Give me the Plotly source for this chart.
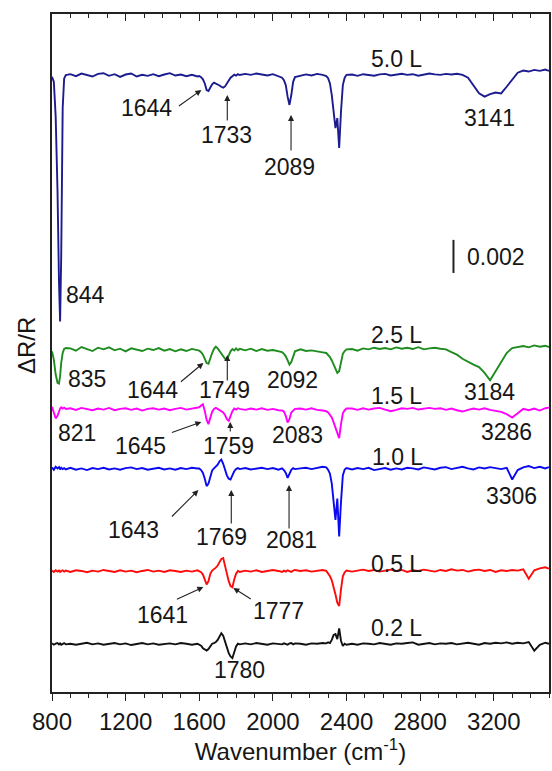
import plotly.graph_objects as go

# ---------------- data ----------------
# sampling wavenumbers (cm^-1)
WN = ([800, 810, 820, 830, 838, 844, 850, 858, 866, 875]
      + list(range(900, 1600, 30))
      + list(range(1600, 1830, 10))
      + list(range(1850, 2050, 30))
      + list(range(2050, 2130, 10))
      + list(range(2150, 2290, 30))
      + list(range(2290, 2410, 10))
      + list(range(2430, 3490, 30)) + [3500])

# spectra, deviation from each baseline, in units of 1e-4 dR/R
d50 = ([-1, -4, -25, -70, -125, -149, -110, -20, -2, 0]
       + [0.6, -0.6, 1.0, 0.2, -0.8, 0.8, 1.2, -0.4, 0.6, -1.0, 0.4, 1.0, -0.8, 0.2, -0.4, 0.6, -0.6, 0.4, 1.2, -0.2, 0.4, -0.6, 0.2, -0.8]
       + [-0.5, -1.2, -2.5, -5, -9, -9.5, -7, -5.5, -4.5, -5, -5.5, -6.2, -7, -7.5, -6.8, -4.8, -2.8, -1.5, -0.6, 0.3, -0.3, 0.6, 0.1]
       + [0.8, 0.2, 1.0, 0.4, -0.2, 0.6, -0.6]
       + [-1.5, -3, -6, -13, -18, -12, -4, -1.2]
       + [-0.4, 0.5, -0.2, 0.8, 0.2]
       + [-0.5, -1.8, -5, -12, -24, -32, -26, -44, -22, -6, -1.5, 0.2]
       + [0.4, -0.4, 0.6, 0.2, -0.3, 0.5, 0.8, -0.2, 0.4, 0.9,
          0.2, 0.6, -0.3, 0.4, 1.0, 0.5, 0.2, 0.8, 0.4, 0.9,
          0.2, -1.5, -6, -11, -13, -11.5, -10.5, -11, -7, -3,
          1.5, 2.8, 2.2, 3.2, 2.6, 3.4, 2.6])

d25 = ([-1, -6, -15, -20, -20.5, -16, -8, -2, 0.5, 1]
       + [0.8, -0.6, 1.6, 0.4, -0.8, 1.2, 0.2, 1.4, -0.4, 0.6, -1.0, 0.8, 0.2, -0.8, 0.6, -0.2, 1.0, -0.6, 0.4, -1.0, 0.2, -0.8, 0.5, -0.4]
       + [-0.6, -1.5, -3, -5.5, -8, -8.5, -5, -2, 0.5, 1.8, 0.8, -0.8, -2, -3.5, -5.5, -6, -3, -1, 0.4, -0.5, 0.8, -0.3, 0.5]
       + [-0.4, 0.6, -0.8, 0.4, -0.6, -0.2, -1.0]
       + [-1.5, -2.5, -4, -6.5, -9, -7.5, -3.5, -1]
       + [0.2, -0.8, -0.4, -1.2, -1.6]
       + [-2, -3, -4.5, -6.5, -9, -12, -14, -13, -7, -2.5, -0.8, 0.2]
       + [0.4, -0.6, 0.8, 0.2, 1.2, 0.4, 1.0, 0.2, 1.4, 0.6,
          1.2, 0.4, 1.5, 0.2, 0.8, 1.2, 0.6, 0.2, -1.5, -3,
          -5.5, -7.5, -9, -10.5, -14, -18.5, -13, -8, -2, 1.0,
          1.6, 2.2, 1.4, 2.6, 1.8, 2.4, 1.6])

d15 = ([1.5, -2, -5.5, -4, -1, 0.5, 1.2, 0.4, 1.0, 0.2]
       + [0.6, -0.4, 0.8, 0.2, -0.6, 0.4, -0.2, 0.8, -0.6, 0.2, 0.6, -0.4, 0.4, -0.8, 0.2, 0.6, -0.2, 0.4, -0.6, 0.2, 0.8, -0.2, 0.4, 0.8]
       + [1.2, 2.2, 3, -1, -6.5, -9, -5, -1.5, 0.2, 0.8, 0.2, -0.5, -1, -2, -3.5, -6, -7, -4, -1.2, 0.4, -0.2, 0.6, 0.2]
       + [-0.4, 0.4, -0.2, 0.6, -0.4, 0.2, -0.6]
       + [-0.8, -1.5, -4, -8, -6, -2, -0.6, 0.2]
       + [0.4, -0.2, 0.6, -0.4, -0.8]
       + [-1.2, -2, -3.2, -5, -8, -11, -14, -17.5, -9, -2.5, -0.6, 0.4]
       + [0.4, -0.4, 0.6, -0.2, 0.4, 0.8, -0.2, -1.2, -0.4, 0.6,
          0.2, 0.8, -0.2, 0.4, 0.8, 0.2, 0.6, -0.4, 0.4, -0.6,
          -1.4, -0.4, 0.4, -0.2, 0.6, -0.4, -0.8, -1.6, -3, -5,
          -2.5, 0.2, -0.6, 0.4, -0.8, 0.6, 1.0])

d10 = ([0.8, -0.6, 1.2, 0.2, 1.0, -0.4, 0.6, -0.2, 0.4, -0.4]
       + [0.6, -0.6, 0.2, -0.8, 0.4, -0.2, 0.6, -0.4, 0.2, -0.6, 0.4, 0.8, -0.2, 0.4, -0.6, 0.2, 0.6, -0.4, 0.2, -0.6, 0.4, -0.2, 0.6, 0.2]
       + [0.2, -0.8, -2.5, -6, -10.5, -9, -4, -1, 0.2, 1.2, 2.5, 4.5, 5.5, 3, -1, -4, -6, -6.5, -4, -1.5, -0.2, 0.4, -0.2]
       + [0.4, -0.4, 0.2, 0.6, -0.2, 0.4, -0.6]
       + [0.2, -0.8, -2.5, -5.5, -3, -0.6, 0.4, -0.2]
       + [0.2, 0.6, -0.2, 0.4, 1.2]
       + [0.8, -0.6, -3, -9, -20, -31, -18, -41, -20, -4, -0.5, 0.4]
       + [-0.4, 0.4, -0.2, 0.6, -0.8, -0.2, 0.4, -0.6, 0.2, -0.4,
          0.6, 0.2, -0.4, 0.8, 0.2, -0.4, 0.6, 1.0, -0.2, 0.6,
          1.2, 0.2, -0.4, 0.8, 0.2, 1.0, 0.4, -0.2, 0.6, -6.5,
          -0.8, 0.8, 1.6, 0.4, 1.2, 0.2, 1.0])

d05 = ([0.4, -0.4, 0.6, -0.2, 0.4, -0.4, 0.2, 0.6, -0.2, 0.4]
       + [-0.4, 0.6, 0.2, -0.6, 0.4, -0.2, 0.8, 0.2, -0.4, 0.6, -0.2, 0.4, -0.6, 0.2, 0.8, -0.2, 0.4, -0.4, 0.6, 0.2, -0.4, 0.4, -0.2, 0.6]
       + [0.2, -0.6, -2, -4.5, -8, -6, -1.5, 0.4, 1.2, 2.2, 3.5, 5.5, 7.5, 8, 3.5, -2, -6, -9, -9.7, -5, -1.5, 0.2, -0.4]
       + [0.4, -0.2, 0.6, -0.4, 0.2, 0.8, 0.2]
       + [-0.4, 0.4, -0.2, 0.6, 0.2, -0.4, 0.4, 0.8]
       + [0.2, 0.6, -0.2, 0.4, 0.8]
       + [0.2, -1.2, -3, -5.5, -9, -14, -19, -21, -11, -3, -0.6, 0.4]
       + [-0.2, 0.6, 1.0, 0.2, 0.8, -0.2, 0.6, 1.0, 0.2, 0.8,
          -0.4, 0.6, 0.2, 1.0, 0.4, -0.2, 0.8, 0.2, 1.2, 0.4,
          0.8, -0.2, 0.6, 1.0, 0.2, 0.8, -0.4, 0.6, 0.2, 0.8,
          0.4, 1.2, -4.5, 0.6, 1.8, 2.4, 1.6])

d02 = ([0.4, -0.4, 0.2, 0.6, -0.2, 0.4, -0.4, 0.2, 0.6, -0.2]
       + [0.2, -0.4, 0.4, 0.8, -0.2, 0.4, -0.4, 0.2, 0.6, -0.2, 0.4, -0.6, 0.2, 0.6, -0.2, 0.4, -0.4, 0.2, 0.4, -0.2, 0.6, 0.2, -0.4, 0.2]
       + [-0.4, -1, -2.5, -3.5, -4, -3, -1, 0.2, 0.6, 1.2, 2.5, 4.5, 6.5, 5, 1, -2.5, -5.5, -7.5, -8.5, -5, -1.5, 0.2, -0.2]
       + [0.4, -0.2, 0.6, 0.2, -0.4, 0.4, 0.2]
       + [-0.2, 0.4, 0.2, -0.4, 0.4, 0.6, -0.2, 0.4]
       + [0.2, -0.4, 0.4, 0.2, 0.6]
       + [0.4, 1.0, 0.6, 2.5, 5.5, 6, 3, 9.5, 2, -1.2, 0.2, -0.4]
       + [0.2, -0.4, 0.4, 0.2, -0.2, 0.6, 0.2, -0.4, 0.4, 0.2,
          0.6, 1.0, -0.4, 0.2, 0.6, -0.2, 0.4, 0.2, 0.6, -0.2,
          0.4, 0.8, 0.2, -0.4, 0.6, 0.2, 0.8, 0.4, 1.0, 0.2,
          0.8, 0.4, 1.2, -4, -0.5, 0.8, 0.2])

SERIES = [d50, d25, d15, d10, d05, d02]
EXPOSURES = ["5.0 L", "2.5 L", "1.5 L", "1.0 L", "0.5 L", "0.2 L"]
OFFSETS = [0.0373, 0.0207, 0.0171, 0.0135, 0.0073, 0.0029]   # vertical stacking offsets (dR/R)
SCALE_BAR = 0.002

# peak labels: (text, px_x, px_y) text centres in image pixels
PEAK_LABELS = [
    ("1644", 147, 108), ("1733", 227, 135), ("2089", 290, 167), ("3141", 491, 118), ("844", 86, 295),
    ("835", 87, 379), ("1644", 153, 390), ("1749", 225, 390), ("2092", 293, 380), ("3184", 491, 392),
    ("821", 77, 433), ("1645", 141, 446), ("1759", 229, 446), ("2083", 298, 435), ("3286", 508, 432),
    ("1643", 134, 530), ("1769", 222, 537), ("2081", 292, 540), ("3306", 513, 496),
    ("1641", 163, 615), ("1777", 279, 611), ("1780", 240, 670),
]
SERIES_LABEL_POS = [(398, 59), (398, 335), (398, 396), (399, 457), (398, 564), (398, 628)]
# arrows: (tail_x, tail_y, head_x, head_y) in image pixels
ARROWS = [
    (178, 107, 202, 90), (228, 122, 228, 95), (292, 152, 292, 115),
    (180, 383, 204, 363), (228, 382, 228, 355),
    (171, 433, 202, 422), (231, 433, 231, 422),
    (171, 518, 199, 490), (232, 525, 232, 490), (290, 530, 290, 485),
    (176, 600, 204, 587), (253, 600, 234, 588),
]

COLORS = ["#1c1c8e", "#1e8c1e", "#ff00ff", "#0a0af0", "#ff0a0a", "#111111"]

# ---------------- figure ----------------
W, H = 552, 771
L, R, T, B = 52, 1, 14, 79
PW, PH = W - L - R, H - T - B
XR = [800, 3500]
YR = [0.0, 0.041]
FONT = "Liberation Sans, Arial, sans-serif"
TXT = "#161616"


def paper(px, py):
    return (px - L) / PW, (H - B - py) / PH


fig = go.Figure()
for vals, off, col, name in zip(SERIES, OFFSETS, COLORS, EXPOSURES):
    fig.add_trace(go.Scatter(x=WN, y=[off + v * 1e-4 for v in vals], mode="lines",
                             line=dict(color=col, width=1.9), name=name,
                             showlegend=False, hoverinfo="skip"))
# helper trace to anchor the top axis
fig.add_trace(go.Scatter(x=XR, y=[None, None], xaxis="x2", mode="lines",
                         showlegend=False, hoverinfo="skip"))

ann = []
for (txt, px, py) in PEAK_LABELS:
    x, y = paper(px, py)
    ann.append(dict(text=txt, x=x, y=y, xref="paper", yref="paper", showarrow=False,
                    xanchor="center", yanchor="middle", font=dict(size=23, color=TXT, family=FONT)))
for name, (px, py) in zip(EXPOSURES, SERIES_LABEL_POS):
    x, y = paper(px, py)
    ann.append(dict(text=name, x=x, y=y, xref="paper", yref="paper", showarrow=False,
                    xanchor="center", yanchor="middle", font=dict(size=23, color=TXT, family=FONT)))
for (tx, ty, hx, hy) in ARROWS:
    x, y = paper(hx, hy)
    ann.append(dict(text="", x=x, y=y, xref="paper", yref="paper", showarrow=True,
                    ax=tx - hx, ay=ty - hy, arrowhead=2, arrowsize=1.1, arrowwidth=1.1,
                    arrowcolor="#222222"))
# scale bar label
x, y = paper(498, 257)
ann.append(dict(text=f"{SCALE_BAR:.3f}", x=x, y=y, xref="paper", yref="paper", showarrow=False,
                xanchor="center", yanchor="middle", font=dict(size=23, color=TXT, family=FONT)))
# y axis title
x, y = paper(26, 346)
ann.append(dict(text="ΔR/R", x=x, y=y, xref="paper", yref="paper", showarrow=False, textangle=-90,
                xanchor="center", yanchor="middle", font=dict(size=24, color=TXT, family=FONT)))

SB_X = 2981
SB_Y0 = 0.02534
fig.add_shape(type="line", xref="x", yref="y", x0=SB_X, x1=SB_X, y0=SB_Y0, y1=SB_Y0 + SCALE_BAR,
              line=dict(color="#222222", width=2))

fig.update_layout(
    width=W, height=H, margin=dict(l=L, r=R, t=T, b=B, pad=0),
    paper_bgcolor="white", plot_bgcolor="white",
    font=dict(family=FONT, color=TXT),
    annotations=ann,
    xaxis=dict(range=XR, showline=True, linecolor="#222222", linewidth=1.5, mirror=False,
               ticks="outside", ticklen=7, tickwidth=1.3, tickcolor="#222222",
               tick0=800, dtick=400, showgrid=False, zeroline=False,
               minor=dict(ticks="outside", dtick=100, tick0=800, ticklen=4, tickwidth=1.1, tickcolor="#222222", showgrid=False),
               tickfont=dict(size=24, family=FONT, color=TXT),
               title=dict(text="Wavenumber (cm<sup>-1</sup>)", font=dict(size=24, family=FONT, color=TXT), standoff=8)),
    xaxis2=dict(range=XR, overlaying="x", side="top", anchor="y", showline=True, linecolor="#222222",
                linewidth=1.5, ticks="inside", ticklen=7, tickwidth=1.3, tickcolor="#222222",
                tick0=800, dtick=400, showticklabels=False, showgrid=False, zeroline=False,
                minor=dict(ticks="inside", dtick=100, tick0=800, ticklen=4, tickwidth=1.1, tickcolor="#222222", showgrid=False)),
    yaxis=dict(range=YR, showline=True, linecolor="#222222", linewidth=1.5, mirror=True,
               ticks="", showticklabels=False, showgrid=False, zeroline=False),
)

fig.write_html("out.html", config={"displayModeBar": False},
               post_script="document.body.style.margin='0px';")
